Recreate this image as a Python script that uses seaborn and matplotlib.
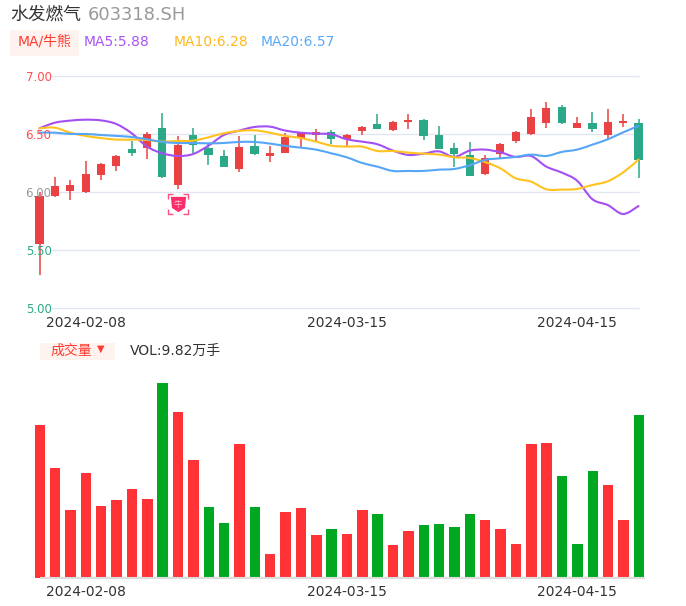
import numpy as np
import pandas as pd
import matplotlib
matplotlib.use('Agg')
import matplotlib.pyplot as plt
import seaborn as sns
from matplotlib.patches import PathPatch, Rectangle
from matplotlib.path import Path

day = np.arange(40)
opens = [5.55, 5.97, 6.01, 6.00, 6.15, 6.23, 6.376, 6.382, 6.555, 6.06,
         6.494, 6.382, 6.313, 6.201, 6.397, 6.31, 6.342, 6.468, 6.494, 6.517,
         6.457, 6.529, 6.586, 6.54, 6.609, 6.626, 6.494, 6.385, 6.325, 6.161,
         6.33, 6.44, 6.50, 6.60, 6.736, 6.557, 6.595, 6.491, 6.598, 6.598]
closes = [5.97, 6.055, 6.066, 6.158, 6.24, 6.316, 6.342, 6.506, 6.13, 6.408,
          6.411, 6.322, 6.221, 6.388, 6.333, 6.336, 6.474, 6.509, 6.517, 6.463,
          6.494, 6.566, 6.549, 6.606, 6.624, 6.489, 6.371, 6.33, 6.141, 6.293,
          6.417, 6.517, 6.647, 6.727, 6.60, 6.595, 6.549, 6.606, 6.618, 6.282]
highs = [6.00, 6.135, 6.106, 6.273, 6.25, 6.32, 6.445, 6.523, 6.684, 6.486,
         6.552, 6.42, 6.365, 6.486, 6.494, 6.402, 6.509, 6.512, 6.543, 6.537,
         6.503, 6.572, 6.675, 6.612, 6.675, 6.63, 6.575, 6.422, 6.434, 6.322,
         6.425, 6.526, 6.716, 6.776, 6.753, 6.647, 6.693, 6.716, 6.675, 6.632]
lows = [5.29, 5.96, 5.93, 5.99, 6.106, 6.184, 6.316, 6.284, 6.126, 6.026,
        6.342, 6.236, 6.215, 6.175, 6.325, 6.264, 6.336, 6.39, 6.437, 6.417,
        6.402, 6.494, 6.543, 6.532, 6.543, 6.451, 6.371, 6.221, 6.141, 6.149,
        6.299, 6.422, 6.494, 6.555, 6.592, 6.555, 6.523, 6.457, 6.566, 6.126]

ma5 = [6.552, 6.60, 6.618, 6.626, 6.62, 6.589, 6.509, 6.394, 6.336, 6.313,
       6.33, 6.402, 6.494, 6.532, 6.563, 6.566, 6.532, 6.514, 6.506, 6.50,
       6.457, 6.437, 6.414, 6.36, 6.322, 6.333, 6.353, 6.305, 6.359, 6.368,
       6.345, 6.305, 6.313, 6.221, 6.17, 6.10, 5.94, 5.89, 5.813, 5.882]
ma10 = [6.552, 6.557, 6.514, 6.486, 6.468, 6.454, 6.454, 6.451, 6.437, 6.443,
        6.445, 6.474, 6.509, 6.529, 6.534, 6.514, 6.486, 6.468, 6.437, 6.402,
        6.394, 6.394, 6.356, 6.356, 6.342, 6.333, 6.325, 6.302, 6.296, 6.261,
        6.207, 6.121, 6.092, 6.026, 6.023, 6.029, 6.063, 6.095, 6.172, 6.282]
ma20 = [6.514, 6.514, 6.503, 6.503, 6.494, 6.486, 6.477, 6.457, 6.434, 6.425,
        6.425, 6.422, 6.425, 6.434, 6.434, 6.42, 6.40, 6.385, 6.368, 6.336,
        6.302, 6.253, 6.221, 6.184, 6.184, 6.184, 6.195, 6.201, 6.233, 6.279,
        6.293, 6.305, 6.325, 6.313, 6.348, 6.368, 6.411, 6.457, 6.517, 6.572]

volumes = [9.22, 6.62, 4.08, 6.34, 4.35, 4.71, 5.35, 4.75, 11.77, 10.0,
           7.10, 4.29, 3.30, 8.11, 4.29, 1.43, 3.96, 4.23, 2.58, 2.94,
           2.66, 4.08, 3.84, 1.99, 2.86, 3.18, 3.24, 3.06, 3.86, 3.52,
           2.96, 2.07, 8.09, 8.13, 6.16, 2.03, 6.44, 5.63, 3.52, 9.82]
vol_dir = list('uuuuuuuuduudduduuuuduuduuddddu' 'uuuudddu' 'ud')

date_ticks = [3, 20, 35]
date_labels = ['2024-02-08', '2024-03-15', '2024-04-15']
price_ticks = [5.0, 5.5, 6.0, 6.5, 7.0]
price_labels = ['5.00', '5.50', '6.00', '6.50', '7.00']
price_colors = ['#2BA98A', '#2BA98A', '#999999', '#FF4D4F', '#FF4D4F']

RED = '#EA4242'
GREEN = '#2AA888'
VOL_COLORS = {'u': '#FF3236', 'd': '#00A822'}
W, H = 686, 606
STEP = 15.36

sns.set_theme(style='white')
plt.rcParams['font.family'] = ['DejaVu Sans', 'Noto Sans CJK SC']
plt.rcParams['axes.axisbelow'] = False

fig = plt.figure(figsize=(W / 100, H / 100), dpi=100)


def px_axes(left, top, right, bottom):
    return fig.add_axes([left / W, 1 - bottom / H, (right - left) / W, (bottom - top) / H])


def px_text(x, y, s, **kw):
    fig.text(x / W, 1 - y / H, s, va='center', **kw)


def smooth(ax, line):
    # the source chart draws its lines as curves, so swap the polyline for a bezier
    pts = line.get_xydata()
    prev = np.vstack([pts[0], pts[:-1]])
    nxt = np.vstack([pts[1:], pts[-1]])
    tan = (nxt - prev) / 6
    verts = [pts[0]]
    for i in range(len(pts) - 1):
        verts += [pts[i] + tan[i], pts[i + 1] - tan[i + 1], pts[i + 1]]
    codes = [Path.MOVETO] + [Path.CURVE4] * (len(verts) - 1)
    ax.add_patch(PathPatch(Path(verts, codes), fc='none', ec=line.get_color(), lw=line.get_linewidth(),
                           capstyle='round', zorder=2))
    line.remove()


x_lim = ((30 - 39.5) / STEP, (650 - 39.5) / STEP)

# candles
ax = px_axes(30, 76.3, 650, 308.3)
ax.set_facecolor('none')
ax.hlines(price_ticks, 0.8, 39, color='#E1E6F2', lw=1, zorder=0.5, clip_on=False)
for i in day:
    c = RED if closes[i] >= opens[i] else GREEN
    ax.vlines(i, lows[i], highs[i], color=c, lw=1.1, zorder=1)
    ax.bar(i, abs(closes[i] - opens[i]), bottom=min(opens[i], closes[i]), width=0.53,
           color=c, lw=0, zorder=1.2)

# moving averages
ma_df = pd.DataFrame({'day': day, 'MA5': ma5, 'MA10': ma10, 'MA20': ma20})
for name, col in [('MA5', '#A44FF3'), ('MA10', '#FFC21F'), ('MA20', '#55A6F6')]:
    sns.lineplot(data=ma_df, x='day', y=name, color=col, lw=1.5, ax=ax)
    smooth(ax, ax.lines[-1])

# bull badge under the candle
corners = Path([(-1, -.55), (-1, -1), (-.55, -1), (.55, -1), (1, -1), (1, -.55),
                (1, .55), (1, 1), (.55, 1), (-.55, 1), (-1, 1), (-1, .55)],
               [Path.MOVETO, Path.LINETO, Path.LINETO] * 4)
shield = Path([(-1, 1), (1, 1), (.85, -.45), (0, -1), (-.85, -.45), (-1, 1)], closed=True)
ax.plot([9], [5.899], marker=corners, ms=14, mfc='none', mec='#FF4F7F', mew=1, zorder=3)
ax.plot([9], [5.899], marker=shield, ms=11, mfc='#FB2D6A', mec='none', zorder=3)
ax.text(9, 5.899, '牛', color='#FFC4D6', fontsize=6, ha='center', va='center', zorder=4)

ax.set_xlim(x_lim)
ax.set_ylim(5, 7)
ax.set_xticks(date_ticks, date_labels)
ax.set_yticks(price_ticks, price_labels)
ax.tick_params(axis='x', length=0, pad=5.3, labelsize=10, labelcolor='#333333')
ax.tick_params(axis='y', length=0, pad=-15.5, labelsize=8.5)
for lab, col in zip(ax.get_yticklabels(), price_colors):
    lab.set_color(col)
ax.set_xlabel('')
ax.set_ylabel('')
sns.despine(ax=ax, left=True, bottom=True)

# volume
vol_df = pd.DataFrame({'day': day, 'vol': volumes, 'dir': vol_dir})
ax2 = px_axes(30.3, 383, 650.3, 578)
ax2.set_facecolor('none')
sns.barplot(data=vol_df, x='day', y='vol', hue='dir', palette=VOL_COLORS, dodge=False, saturation=1,
            native_scale=True, width=0.68, lw=0, legend=False, ax=ax2, zorder=2)
ax2.hlines(0, 0, 39.4, color='#DDDDDD', lw=1.5, zorder=3, clip_on=False)
ax2.set_xlim(x_lim)
ax2.set_ylim(0, max(volumes))
ax2.set_xticks(date_ticks, date_labels)
ax2.set_yticks([])
ax2.tick_params(axis='x', length=0, pad=5.3, labelsize=10, labelcolor='#333333')
ax2.set_xlabel('')
ax2.set_ylabel('')
sns.despine(ax=ax2, left=True, bottom=True)

# header texts
fig.add_artist(Rectangle((10 / W, 1 - 56 / H), 69 / W, 26 / H, transform=fig.transFigure,
                         color='#FFF3EF', lw=0))
fig.add_artist(Rectangle((40 / W, 1 - 360 / H), 75 / W, 17 / H, transform=fig.transFigure,
                         color='#FFF3EF', lw=0))
px_text(10, 15, '水发燃气', color='#333333', fontsize=12.8)
px_text(88, 15, '603318.SH', color='#999999', fontsize=12.9)
px_text(18, 41.5, 'MA/牛熊', color='#FF3B30', fontsize=10)
px_text(84, 41.5, 'MA5:5.88', color='#A855F7', fontsize=10)
px_text(174, 41.5, 'MA10:6.28', color='#FFB81C', fontsize=10)
px_text(261, 41.5, 'MA20:6.57', color='#5AA9F8', fontsize=10)
px_text(50, 351, '成交量', color='#FF3B30', fontsize=10)
px_text(96.5, 349, '▼', color='#FF3B30', fontsize=7)
px_text(130, 351, 'VOL:9.82万手', color='#333333', fontsize=10)

fig.savefig('out.png', dpi=100)
